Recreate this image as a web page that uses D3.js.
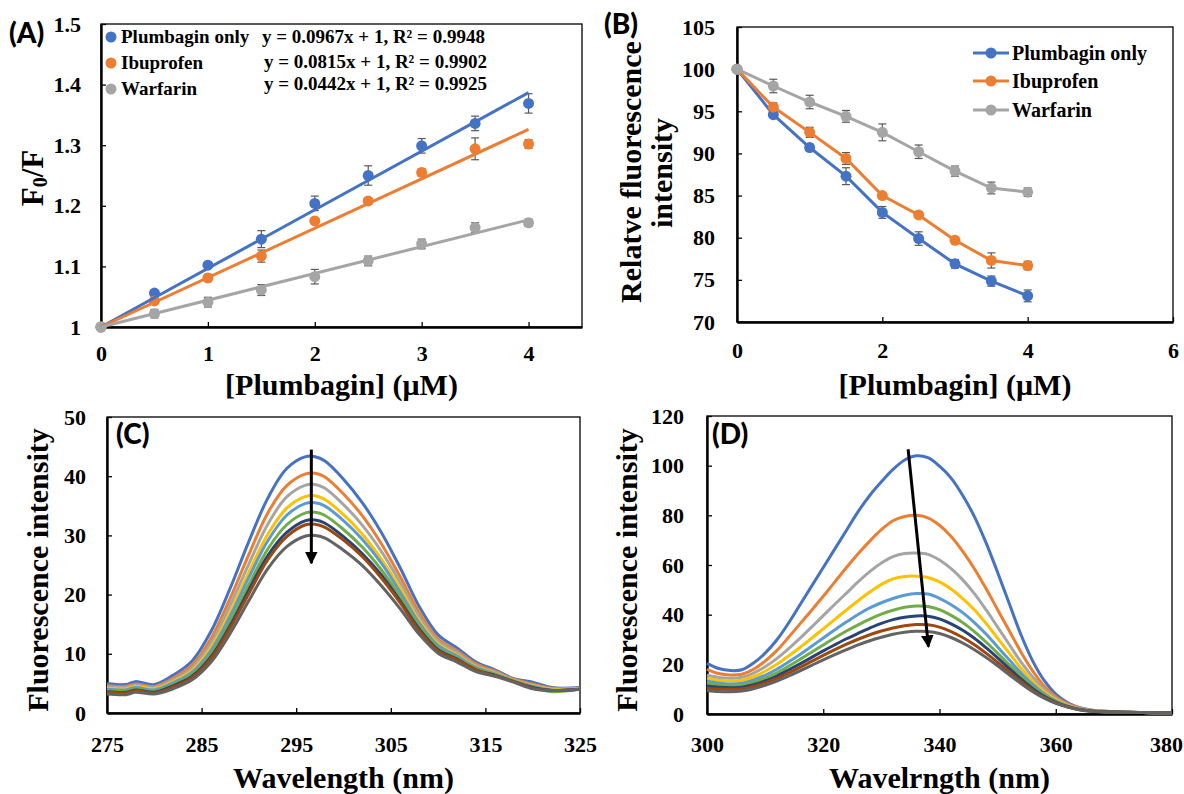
<!DOCTYPE html>
<html>
<head>
<meta charset="utf-8">
<script src="https://cdn.jsdelivr.net/npm/d3@7"></script>
<style>
  body { margin: 0; background: #fff; }
  text { font-family: "Liberation Serif", "Times New Roman", serif; font-weight: bold; fill: #000; }
  .plabel { font-family: Lato, "Open Sans", sans-serif; font-size: 28px; font-weight: 900; }
</style>
</head>
<body>
<script>
const W = 1184, H = 794;

// ---- data ----
const seriesNames = ['Plumbagin only', 'Ibuprofen', 'Warfarin'];
const seriesColors = ['#4472C4', '#ED7D31', '#A5A5A5'];

// panel A: F0/F vs [Plumbagin]
const conc = [0, 0.5, 1, 1.5, 2, 2.5, 3, 3.5, 4];
const f0fPlumbagin = [1, 1.056, 1.102, 1.145, 1.204, 1.250, 1.299, 1.336, 1.369];
const f0fIbuprofen = [1, 1.043, 1.081, 1.117, 1.175, 1.208, 1.255, 1.294, 1.302];
const f0fWarfarin  = [1, 1.022, 1.041, 1.061, 1.083, 1.109, 1.137, 1.164, 1.172];
const f0fErrPlumbagin = [0, 0.004, 0.005, 0.014, 0.012, 0.016, 0.012, 0.012, 0.016];
const f0fErrIbuprofen = [0, 0.004, 0.006, 0.010, 0.004, 0.005, 0.006, 0.018, 0.007];
const f0fErrWarfarin  = [0, 0.007, 0.008, 0.009, 0.012, 0.008, 0.008, 0.008, 0.006];
const trendSlopes = [0.0967, 0.0815, 0.0442];
const trendLabels = ['y = 0.0967x + 1, R² = 0.9948', 'y = 0.0815x + 1, R² = 0.9902', 'y = 0.0442x + 1, R² = 0.9925'];

// panel B: relative fluorescence intensity
const relPlumbagin = [100, 94.6, 90.7, 87.3, 83.0, 79.9, 76.9, 74.85, 73.1];
const relIbuprofen = [100, 95.5, 92.5, 89.4, 85.0, 82.7, 79.7, 77.3, 76.7];
const relWarfarin  = [100, 98.0, 96.1, 94.4, 92.5, 90.2, 87.9, 85.9, 85.4];
const relErrPlumbagin = [0, 0.3, 0.4, 1.0, 0.7, 0.8, 0.5, 0.6, 0.7];
const relErrIbuprofen = [0, 0.5, 0.6, 0.7, 0.3, 0.3, 0.3, 0.9, 0.5];
const relErrWarfarin  = [0, 0.8, 0.8, 0.7, 1.0, 0.8, 0.6, 0.7, 0.5];

// panels C and D: emission spectra, 9 titration steps
const spectraColors = ['#4472C4', '#ED7D31', '#A5A5A5', '#FFC000', '#5B9BD5', '#70AD47', '#264478', '#9E480E', '#636363'];

const wavelengthC = [275, 277, 278, 280, 282, 284, 286, 288, 290, 292, 294, 296, 297, 298, 300, 302, 304, 306, 308, 310, 312, 314, 316, 318, 320, 322, 325];
const spectraC = [
  [5.0, 4.8, 5.3, 4.8, 6.4, 8.8, 13.8, 21.0, 29.0, 36.3, 41.3, 43.3, 43.3, 42.6, 39.5, 35.5, 30.5, 24.5, 18.0, 13.2, 11.0, 8.6, 7.3, 5.8, 5.2, 4.3, 4.3],
  [4.6, 4.5, 4.9, 4.5, 5.9, 8.1, 12.6, 19.3, 26.8, 33.8, 38.4, 40.4, 40.5, 39.9, 37.0, 33.3, 28.6, 23.0, 17.0, 12.5, 10.5, 8.3, 7.1, 5.7, 4.9, 4.2, 4.2],
  [4.4, 4.3, 4.7, 4.3, 5.6, 7.6, 11.8, 18.1, 25.2, 31.9, 36.5, 38.5, 38.6, 38.0, 35.2, 31.7, 27.3, 22.0, 16.3, 12.1, 10.2, 8.0, 6.9, 5.6, 4.7, 4.1, 4.1],
  [4.2, 4.1, 4.5, 4.1, 5.3, 7.2, 11.1, 17.0, 23.8, 30.2, 34.6, 36.6, 36.7, 36.1, 33.5, 30.2, 26.0, 21.1, 15.6, 11.7, 9.8, 7.8, 6.7, 5.5, 4.6, 4.0, 4.1],
  [4.0, 3.9, 4.3, 3.9, 5.1, 6.9, 10.6, 16.3, 22.9, 29.1, 33.4, 35.4, 35.5, 35.0, 32.5, 29.3, 25.3, 20.4, 15.2, 11.4, 9.6, 7.7, 6.6, 5.4, 4.5, 3.9, 4.0],
  [3.8, 3.7, 4.1, 3.7, 4.8, 6.5, 10.0, 15.4, 21.7, 27.7, 31.8, 33.8, 33.9, 33.4, 31.0, 28.0, 24.2, 19.6, 14.7, 11.0, 9.3, 7.5, 6.5, 5.4, 4.3, 3.6, 4.0],
  [3.6, 3.5, 3.9, 3.5, 4.6, 6.2, 9.5, 14.7, 20.8, 26.6, 30.5, 32.5, 32.6, 32.1, 29.8, 26.9, 23.3, 18.9, 14.2, 10.7, 9.1, 7.3, 6.4, 5.3, 4.3, 3.8, 4.0],
  [3.5, 3.4, 3.8, 3.4, 4.4, 6.0, 9.2, 14.3, 20.2, 25.9, 29.8, 31.8, 31.9, 31.4, 29.2, 26.4, 22.8, 18.6, 13.9, 10.5, 9.0, 7.3, 6.3, 5.3, 4.2, 3.8, 4.0],
  [3.2, 3.1, 3.5, 3.2, 4.1, 5.6, 8.6, 13.4, 19.0, 24.4, 28.1, 29.9, 30.0, 29.6, 27.5, 24.9, 21.5, 17.6, 13.3, 10.1, 8.6, 7.0, 6.2, 5.2, 4.1, 3.8, 4.0]
];

const wavelengthD = [300, 302, 304, 306, 308, 310, 312, 314, 316, 318, 320, 322, 324, 326, 328, 330, 332, 334, 336, 338, 340, 342, 344, 346, 348, 350, 352, 354, 356, 358, 360, 362, 364, 366, 370, 375, 380];
const spectraD = [
  [20.4, 18.3, 17.5, 17.8, 20.5, 24.5, 29.8, 36.5, 44.0, 51.5, 59.0, 66.5, 74.0, 81.5, 88.0, 93.5, 98.5, 102.3, 104.0, 103.2, 99.8, 95.0, 88.0, 79.5, 69.0, 57.0, 44.5, 32.0, 21.5, 13.5, 8.0, 4.6, 2.6, 1.6, 0.9, 0.6, 0.5],
  [18.0, 16.3, 15.7, 16.0, 18.0, 21.3, 25.5, 30.8, 36.3, 41.8, 47.4, 53.2, 59.0, 64.5, 69.6, 74.2, 77.8, 79.5, 80.0, 79.0, 76.0, 71.5, 65.5, 58.5, 50.5, 42.0, 33.5, 25.0, 17.5, 11.3, 7.0, 4.2, 2.5, 1.5, 0.9, 0.6, 0.5],
  [15.7, 14.7, 14.4, 14.8, 16.5, 19.0, 22.3, 26.2, 30.5, 35.0, 39.6, 44.2, 48.7, 53.2, 57.3, 60.8, 63.4, 64.6, 64.8, 64.3, 62.0, 58.5, 54.0, 48.5, 42.0, 35.0, 28.0, 21.0, 15.0, 10.0, 6.3, 3.8, 2.3, 1.4, 0.9, 0.6, 0.5],
  [14.4, 13.6, 13.3, 13.6, 15.0, 17.2, 20.0, 23.3, 26.8, 30.5, 34.3, 38.1, 41.9, 45.6, 49.1, 52.2, 54.4, 55.4, 55.5, 55.0, 53.2, 50.3, 46.5, 42.0, 36.5, 30.5, 24.5, 18.5, 13.3, 9.0, 5.8, 3.5, 2.1, 1.3, 0.8, 0.6, 0.5],
  [13.3, 12.5, 12.1, 12.4, 13.7, 15.6, 18.0, 20.9, 24.0, 27.3, 30.6, 33.9, 37.1, 40.1, 42.7, 44.8, 46.5, 47.8, 48.5, 48.3, 46.6, 44.0, 40.8, 36.8, 32.2, 27.0, 21.8, 16.6, 12.0, 8.2, 5.3, 3.3, 2.0, 1.3, 0.8, 0.6, 0.5],
  [12.4, 11.7, 11.3, 11.6, 12.7, 14.4, 16.6, 19.2, 22.0, 24.9, 27.8, 30.7, 33.4, 35.9, 38.2, 40.2, 41.8, 43.0, 43.5, 43.3, 42.0, 39.7, 36.8, 33.2, 29.0, 24.5, 19.8, 15.2, 11.0, 7.6, 5.0, 3.1, 1.9, 1.2, 0.8, 0.6, 0.5],
  [11.3, 10.8, 10.6, 10.8, 11.8, 13.3, 15.3, 17.7, 20.2, 22.8, 25.4, 27.9, 30.3, 32.5, 34.6, 36.5, 38.0, 39.0, 39.5, 39.4, 38.3, 36.3, 33.7, 30.5, 26.7, 22.6, 18.3, 14.1, 10.3, 7.1, 4.7, 3.0, 1.8, 1.2, 0.8, 0.6, 0.5],
  [10.3, 10.1, 10.0, 10.2, 11.1, 12.5, 14.3, 16.5, 18.8, 21.2, 23.6, 25.9, 28.1, 30.1, 31.9, 33.4, 34.6, 35.5, 36.0, 35.9, 35.0, 33.2, 30.8, 27.9, 24.5, 20.8, 16.9, 13.1, 9.6, 6.7, 4.5, 2.9, 1.8, 1.2, 0.8, 0.6, 0.5],
  [9.4, 9.1, 9.0, 9.3, 10.2, 11.5, 13.2, 15.2, 17.4, 19.6, 21.8, 23.9, 25.9, 27.8, 29.5, 30.9, 32.1, 32.9, 33.3, 33.2, 32.4, 30.8, 28.6, 25.9, 22.8, 19.4, 15.8, 12.3, 9.1, 6.4, 4.3, 2.8, 1.7, 1.1, 0.8, 0.6, 0.5]
];

// tick labels
const ticksAx = [0, 1, 2, 3, 4];
const ticksAy = [1, 1.1, 1.2, 1.3, 1.4, 1.5];
const ticksBx = [0, 2, 4, 6];
const ticksBy = [70, 75, 80, 85, 90, 95, 100, 105];
const ticksCx = [275, 285, 295, 305, 315, 325];
const ticksCy = [0, 10, 20, 30, 40, 50];
const ticksDx = [300, 320, 340, 360, 380];
const ticksDy = [0, 20, 40, 60, 80, 100, 120];

// quenching arrows (data units)
const arrowC = [[296.6, 44.5], [296.6, 25.3]];
const arrowD = [[334.6, 106.6], [338.1, 27.1]];

// ---- drawing ----
const svg = d3.select('body').append('svg')
  .attr('width', W)
  .attr('height', H);

svg.append('defs').append('marker')
  .attr('id', 'arrowhead')
  .attr('viewBox', '0 0 10 10')
  .attr('refX', 9).attr('refY', 5)
  .attr('markerWidth', 4.2).attr('markerHeight', 4.2)
  .attr('orient', 'auto')
  .append('path')
    .attr('d', 'M0,0 L10,5 L0,10 z')
    .attr('fill', '#000');

function makePanel(p) {
  const x = d3.scaleLinear().domain(p.xDomain).range(p.xRange);
  const y = d3.scaleLinear().domain(p.yDomain).range(p.yRange);
  const g = svg.append('g');

  // frame (top/right thin)
  g.append('rect')
    .attr('x', p.xRange[0]).attr('y', p.yRange[1])
    .attr('width', p.xRange[1] - p.xRange[0])
    .attr('height', p.yRange[0] - p.yRange[1])
    .attr('fill', 'none').attr('stroke', '#000').attr('stroke-width', 1.3);

  const ax = g.append('g')
    .attr('transform', `translate(0,${p.yRange[0]})`)
    .call(d3.axisBottom(x).tickValues(p.xTicks).tickSizeInner(-5).tickSizeOuter(0)
      .tickPadding(p.xPad).tickFormat(p.xFmt || (d => d)));
  const ay = g.append('g')
    .attr('transform', `translate(${p.xRange[0]},0)`)
    .call(d3.axisLeft(y).tickValues(p.yTicks).tickSizeInner(-5).tickSizeOuter(0)
      .tickPadding(p.yPad).tickFormat(p.yFmt || (d => d)));
  [ax, ay].forEach(a => {
    a.select('.domain').attr('stroke-width', 2.4);
    a.selectAll('.tick line').attr('stroke-width', 1.3);
    a.selectAll('text')
      .attr('font-family', '"Liberation Serif", "Times New Roman", serif')
      .attr('font-weight', 'bold')
      .attr('font-size', 22);
  });

  // axis titles
  g.append('text')
    .attr('x', (p.xRange[0] + p.xRange[1]) / 2)
    .attr('y', p.xTitleY)
    .attr('text-anchor', 'middle')
    .attr('font-size', 30)
    .text(p.xTitle);

  return { x, y, g, ax, ay };
}

function yTitle(tx, ty, str) {
  return svg.append('text')
    .attr('transform', `translate(${tx},${ty}) rotate(-90)`)
    .attr('text-anchor', 'middle')
    .attr('font-size', 30)
    .text(str);
}

function errorBars(P, pts) {
  const eb = P.g.append('g').attr('stroke', '#595959').attr('stroke-width', 1.2);
  pts.filter(d => d.e > 0).forEach(d => {
    const xx = P.x(d.c);
    eb.append('line').attr('x1', xx).attr('x2', xx).attr('y1', P.y(d.v - d.e)).attr('y2', P.y(d.v + d.e));
    eb.append('line').attr('x1', xx - 4).attr('x2', xx + 4).attr('y1', P.y(d.v - d.e)).attr('y2', P.y(d.v - d.e));
    eb.append('line').attr('x1', xx - 4).attr('x2', xx + 4).attr('y1', P.y(d.v + d.e)).attr('y2', P.y(d.v + d.e));
  });
}

// ===== Panel A =====
const A = makePanel({
  xDomain: [0, 4.5], xRange: [101, 582],
  yDomain: [1, 1.5], yRange: [327, 24],
  xTicks: ticksAx, yTicks: ticksAy, xPad: 18, yPad: 20,
  yFmt: d => String(+d.toFixed(1)),
  xTitle: '[Plumbagin] (μM)', xTitleY: 395
});

const fA = svg.append('text')
  .attr('transform', 'translate(43,178) rotate(-90)')
  .attr('text-anchor', 'middle')
  .attr('font-size', 31);
fA.append('tspan').text('F');
fA.append('tspan').attr('font-size', 20).attr('dy', 4).text('0');
fA.append('tspan').attr('dy', -4).text('/F');

const seriesA = [
  { vals: f0fPlumbagin, err: f0fErrPlumbagin },
  { vals: f0fIbuprofen, err: f0fErrIbuprofen },
  { vals: f0fWarfarin, err: f0fErrWarfarin }
];

seriesA.forEach((s, i) => {
  const pts = conc.map((c, j) => ({ c, v: s.vals[j], e: s.err[j] }));
  errorBars(A, pts);
  A.g.append('g').selectAll('circle').data(pts).join('circle')
    .attr('cx', d => A.x(d.c)).attr('cy', d => A.y(d.v))
    .attr('r', 5.5).attr('fill', seriesColors[i]);
});

seriesA.forEach((s, i) => {
  A.g.append('line')
    .attr('x1', A.x(0)).attr('y1', A.y(1))
    .attr('x2', A.x(4)).attr('y2', A.y(trendSlopes[i] * 4 + 1))
    .attr('stroke', seriesColors[i]).attr('stroke-width', 3);
});

// legend + equations
const legA = [37, 63, 89];
const eqA = [[262, 43], [264, 68], [264, 90]];
seriesNames.forEach((n, i) => {
  svg.append('circle').attr('cx', 111).attr('cy', legA[i]).attr('r', 5.5).attr('fill', seriesColors[i]);
  svg.append('text').attr('x', 121).attr('y', legA[i] + 6).attr('font-size', 19).text(n);
  svg.append('text').attr('x', eqA[i][0]).attr('y', eqA[i][1]).attr('font-size', 19).text(trendLabels[i]);
});

svg.append('text').attr('class', 'plabel').attr('x', 9).attr('y', 43).text('(A)');

// ===== Panel B =====
const B = makePanel({
  xDomain: [0, 6], xRange: [737, 1173],
  yDomain: [70, 105], yRange: [322, 27],
  xTicks: ticksBx, yTicks: ticksBy, xPad: 20, yPad: 22,
  xTitle: '[Plumbagin] (μM)', xTitleY: 395
});
yTitle(641, 172, 'Relatve fluorescence');
yTitle(672, 173, 'intensity');

const seriesB = [
  { vals: relPlumbagin, err: relErrPlumbagin },
  { vals: relIbuprofen, err: relErrIbuprofen },
  { vals: relWarfarin, err: relErrWarfarin }
];
const lineB = d3.line().x(d => B.x(d.c)).y(d => B.y(d.v));

seriesB.forEach((s, i) => {
  const pts = conc.map((c, j) => ({ c, v: s.vals[j], e: s.err[j] }));
  errorBars(B, pts);
  B.g.append('path').datum(pts)
    .attr('d', lineB).attr('fill', 'none')
    .attr('stroke', seriesColors[i]).attr('stroke-width', 3);
  B.g.append('g').selectAll('circle').data(pts).join('circle')
    .attr('cx', d => B.x(d.c)).attr('cy', d => B.y(d.v))
    .attr('r', 5.5).attr('fill', seriesColors[i]);
});

const legB = [53, 81, 110];
seriesNames.forEach((n, i) => {
  svg.append('line').attr('x1', 973).attr('x2', 1009).attr('y1', legB[i]).attr('y2', legB[i])
    .attr('stroke', seriesColors[i]).attr('stroke-width', 3);
  svg.append('circle').attr('cx', 991).attr('cy', legB[i]).attr('r', 5.5).attr('fill', seriesColors[i]);
  svg.append('text').attr('x', 1012).attr('y', legB[i] + 7).attr('font-size', 20).text(n);
});

svg.append('text').attr('class', 'plabel').attr('x', 604).attr('y', 34).text('(B)');

// ===== Panel C =====
const C = makePanel({
  xDomain: [275, 325], xRange: [107, 580],
  yDomain: [0, 50], yRange: [713, 417],
  xTicks: ticksCx, yTicks: ticksCy, xPad: 23, yPad: 21,
  xTitle: 'Wavelength (nm)', xTitleY: 788
});
yTitle(48, 570, 'Fluorescence intensity');

const lineC = d3.line().curve(d3.curveCatmullRom.alpha(0.5))
  .x((d, j) => C.x(wavelengthC[j])).y(d => C.y(d));
spectraC.forEach((s, i) => {
  C.g.append('path').datum(s).attr('d', lineC).attr('fill', 'none')
    .attr('stroke', spectraColors[i]).attr('stroke-width', 3);
});
C.g.append('line')
  .attr('x1', C.x(arrowC[0][0])).attr('y1', C.y(arrowC[0][1]))
  .attr('x2', C.x(arrowC[1][0])).attr('y2', C.y(arrowC[1][1]))
  .attr('stroke', '#000').attr('stroke-width', 3)
  .attr('marker-end', 'url(#arrowhead)');
svg.append('text').attr('class', 'plabel').attr('x', 116).attr('y', 444).text('(C)');

// ===== Panel D =====
const D = makePanel({
  xDomain: [300, 380], xRange: [707, 1172],
  yDomain: [0, 120], yRange: [714, 416],
  xTicks: ticksDx, yTicks: ticksDy, xPad: 22, yPad: 23,
  xTitle: 'Wavelrngth (nm)', xTitleY: 788
});
// last tick label sits against the page edge
D.ax.selectAll('.tick text').filter(d => d === 380).attr('dx', -6);
yTitle(637, 570, 'Fluorescence intensity');

const lineD = d3.line().curve(d3.curveCatmullRom.alpha(0.5))
  .x((d, j) => D.x(wavelengthD[j])).y(d => D.y(d));
spectraD.forEach((s, i) => {
  D.g.append('path').datum(s).attr('d', lineD).attr('fill', 'none')
    .attr('stroke', spectraColors[i]).attr('stroke-width', 3);
});
D.g.append('line')
  .attr('x1', D.x(arrowD[0][0])).attr('y1', D.y(arrowD[0][1]))
  .attr('x2', D.x(arrowD[1][0])).attr('y2', D.y(arrowD[1][1]))
  .attr('stroke', '#000').attr('stroke-width', 3)
  .attr('marker-end', 'url(#arrowhead)');
svg.append('text').attr('class', 'plabel').attr('x', 712).attr('y', 444).text('(D)');
</script>
</body>
</html>
